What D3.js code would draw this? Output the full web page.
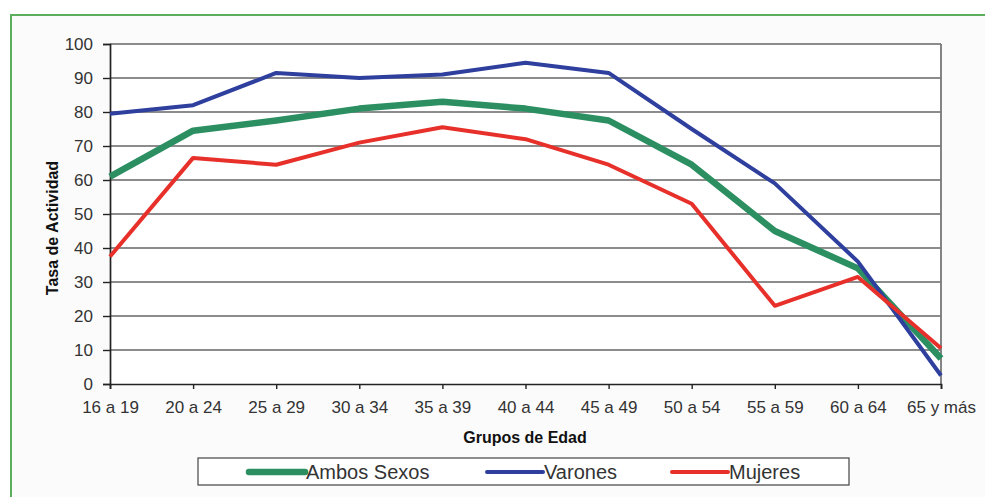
<!DOCTYPE html>
<html><head><meta charset="utf-8">
<script src="https://cdn.jsdelivr.net/npm/d3@7"></script>
<style>
html,body{margin:0;padding:0;background:#fff;}
svg{display:block;font-family:"Liberation Sans",Arial,sans-serif;}
</style></head>
<body><svg id="c" width="985" height="497"></svg>
<script>
const categories = ["16 a 19","20 a 24","25 a 29","30 a 34","35 a 39","40 a 44","45 a 49","50 a 54","55 a 59","60 a 64","65 y más"];
const ambosSexos = [61, 74.5, 77.5, 81, 83, 81, 77.5, 64.5, 45, 34, 7.5];
const varones    = [79.5, 82, 91.5, 90, 91, 94.5, 91.5, 75, 59, 36, 2.5];
const mujeres    = [37.5, 66.5, 64.5, 71, 75.5, 72, 64.5, 53, 23, 31.5, 10.5];
const yTicks = [0,10,20,30,40,50,60,70,80,90,100];
const seriesNames = ["Ambos Sexos","Varones","Mujeres"];

const series = [
  {name: seriesNames[0], values: ambosSexos, color: "#2b8f62", width: 6.5},
  {name: seriesNames[1], values: varones, color: "#2e3f9e", width: 4},
  {name: seriesNames[2], values: mujeres, color: "#e8302b", width: 4}
];

const svg = d3.select("#c");
// outer frame
svg.append("rect").attr("x",11).attr("y",15).attr("width",990).attr("height",500)
  .attr("fill","#fbfbfb").attr("stroke","#5cae5c").attr("stroke-width",2);

const L = 110, R = 941, T = 44, B = 384;
const x = d3.scalePoint().domain(categories).range([L, R]);
const y = d3.scaleLinear().domain([0,100]).range([B, T]);

svg.append("rect").attr("x",L).attr("y",T).attr("width",R-L).attr("height",B-T).attr("fill","#fff");

// gridlines
svg.append("g").selectAll("line").data(yTicks.filter(d=>d>0)).join("line")
  .attr("x1",L).attr("x2",R).attr("y1",d=>y(d)).attr("y2",d=>y(d))
  .attr("stroke","#666").attr("stroke-width",1.7);
// right border
svg.append("line").attr("x1",R).attr("x2",R).attr("y1",T).attr("y2",B)
  .attr("stroke","#777").attr("stroke-width",1.8);

// y axis
const yAxis = svg.append("g").attr("transform",`translate(${L},0)`)
  .call(d3.axisLeft(y).tickValues(yTicks).tickSize(7).tickPadding(10).tickFormat(d3.format("d")));
yAxis.select(".domain").attr("stroke","#222").attr("stroke-width",1.7);
yAxis.selectAll(".tick line").attr("stroke","#222").attr("stroke-width",1.4);
yAxis.selectAll(".tick text").attr("font-size",17).attr("fill","#333")
  .attr("font-family","'Liberation Sans',Arial,sans-serif");

// x axis
const xAxis = svg.append("g").attr("transform",`translate(0,${B})`)
  .call(d3.axisBottom(x).tickSize(5).tickPadding(12));
xAxis.select(".domain").attr("stroke","#222").attr("stroke-width",1.7);
xAxis.selectAll(".tick line").attr("stroke","#222").attr("stroke-width",1.4);
xAxis.selectAll(".tick text").attr("font-size",17).attr("fill","#333")
  .attr("font-family","'Liberation Sans',Arial,sans-serif");

// lines
const line = d3.line().x((d,i)=>x(categories[i])).y(d=>y(d));
svg.append("g").selectAll("path").data(series).join("path")
  .attr("d",d=>line(d.values)).attr("fill","none")
  .attr("stroke",d=>d.color).attr("stroke-width",d=>d.width)
  .attr("stroke-linejoin","round");

// axis titles
svg.append("text").attr("x",525).attr("y",443).attr("text-anchor","middle")
  .attr("font-size",16).attr("font-weight","bold").attr("fill","#111").text("Grupos de Edad");
svg.append("text").attr("transform","translate(58,228) rotate(-90)").attr("text-anchor","middle")
  .attr("font-size",16).attr("font-weight","bold").attr("fill","#111").text("Tasa de Actividad");

// legend
svg.append("rect").attr("x",198).attr("y",458).attr("width",651).attr("height",27)
  .attr("fill","#fff").attr("stroke","#444").attr("stroke-width",1.2);
const legX = [249, 487, 672];
const lg = svg.append("g").selectAll("g").data(series).join("g")
  .attr("transform",(d,i)=>`translate(${legX[i]},472)`);
lg.append("line").attr("x1",0).attr("x2",56).attr("y1",0).attr("y2",0)
  .attr("stroke",d=>d.color).attr("stroke-width",d=>d.width).attr("stroke-linecap","round");
lg.append("text").attr("x",57).attr("y",7).attr("font-size",20).attr("fill","#333").text(d=>d.name);
</script></body></html>
